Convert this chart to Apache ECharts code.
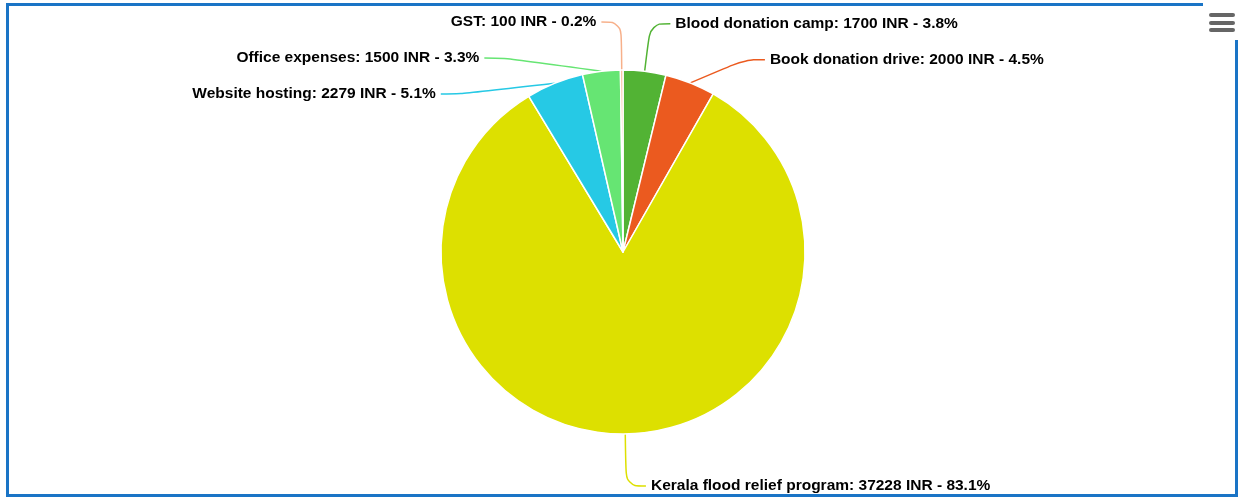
<!DOCTYPE html>
<html>
<head>
<meta charset="utf-8">
<title>Expenses</title>
<script src="https://cdn.jsdelivr.net/npm/echarts@6/dist/echarts.min.js"></script>
<style>
  html, body { margin: 0; padding: 0; background: #fff; }
  #frame {
    position: absolute; left: 6px; top: 3px; width: 1232px; height: 494px;
    box-sizing: border-box; border: 3px solid #1a74c6;
  }
  #chart { position: absolute; left: 0; top: 0; width: 1240px; height: 497px; }
</style>
</head>
<body>
<div id="frame"></div>
<div id="chart"></div>
<script>
// expense heads, clockwise from 12 o'clock
var categories = ['Blood donation camp', 'Book donation drive', 'Kerala flood relief program', 'Website hosting', 'Office expenses', 'GST']
var amounts = [1700, 2000, 37228, 2279, 1500, 100]
var colors = ['#52b334', '#eb5a1f', '#dde000', '#26c9e5', '#66e573', '#f7b08a']

var chart = echarts.init(document.getElementById('chart'))

var pieData = categories.map(function(name, i) {
  var item = { name: name, value: amounts[i], itemStyle: { color: colors[i] } }
  // the big slice's label hangs a bit lower, alone at the bottom
  if (amounts[i] > 10000) {
    item.labelLine = { length: 52, length2: 20 }
    item.label = { lineHeight: 18 }
  }
  return item
})

chart.setOption({
  animation: false,
  graphic: [
    // cover the frame corner behind the menu button
    { type: 'rect', shape: { x: 1203, y: 0, width: 37, height: 40 }, style: { fill: '#fff' } },
    { type: 'rect', shape: { x: 1209, y: 13, width: 26, height: 4, r: 2 }, style: { fill: '#666' } },
    { type: 'rect', shape: { x: 1209, y: 21, width: 26, height: 4, r: 2 }, style: { fill: '#666' } },
    { type: 'rect', shape: { x: 1209, y: 28, width: 26, height: 4, r: 2 }, style: { fill: '#666' } }
  ],
  series: [{
    type: 'pie',
    center: [623, 252],
    radius: 182,
    startAngle: 90,
    clockwise: true,
    percentPrecision: 1,
    avoidLabelOverlap: true,
    data: pieData,
    itemStyle: { borderColor: '#fff', borderWidth: 1.5 },
    label: {
      formatter: '{b}: {c} INR - {d}%',
      color: '#000',
      fontFamily: '"Liberation Sans", Arial, sans-serif',
      fontWeight: 'bold',
      fontSize: 15.5,
      lineHeight: 34
    },
    labelLine: {
      show: true,
      length: 48,
      length2: 20,
      smooth: 0.4,
      lineStyle: { width: 1.5 }
    }
  }]
})
</script>
</body>
</html>
